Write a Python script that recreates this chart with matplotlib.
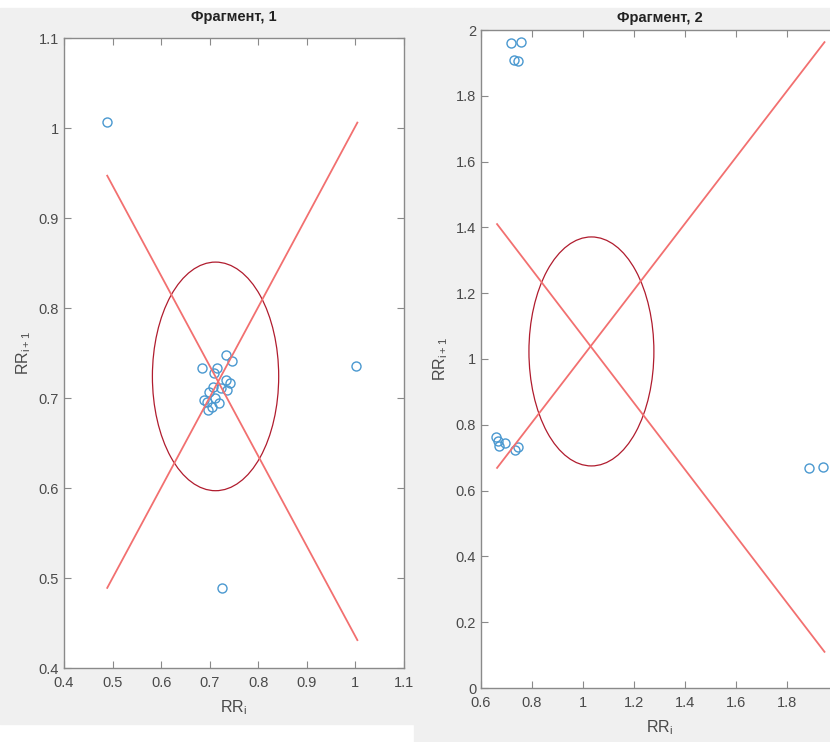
import matplotlib.pyplot as plt
from matplotlib.patches import Ellipse, Rectangle

plt.rcParams['font.family'] = ['Liberation Sans', 'DejaVu Sans']

# Фрагмент 1 - точки RR_i, RR_i+1
rr1_x = [0.4885, 1.001, 0.725, 0.733, 0.746, 0.685, 0.715, 0.709, 0.733, 0.742,
         0.707, 0.723, 0.735, 0.699, 0.688, 0.711, 0.694, 0.719, 0.704, 0.697]
rr1_y = [1.007, 0.7356, 0.489, 0.748, 0.741, 0.733, 0.733, 0.728, 0.720, 0.717,
         0.712, 0.711, 0.709, 0.707, 0.698, 0.700, 0.696, 0.695, 0.690, 0.687]
# линии и эллипс
line1_x = [0.489, 1.004]
line1_up = [0.489, 1.006]
line1_down = [0.947, 0.431]
ell1 = [0.712, 0.724, 0.26, 0.254]   # cx, cy, ширина, высота

# Фрагмент 2
rr2_x = [0.718, 0.757, 0.729, 0.745, 0.658, 0.667, 0.671, 0.694, 0.733, 0.745,
         1.886, 1.941]
rr2_y = [1.960, 1.963, 1.909, 1.906, 0.762, 0.751, 0.736, 0.746, 0.723, 0.733,
         0.669, 0.673]
line2_x = [0.663, 1.947]
line2_up = [0.669, 1.963]
line2_down = [1.410, 0.110]
ell2 = [1.033, 1.023, 0.49, 0.696]

W, H = 830, 742
fig = plt.figure(figsize=(W / 100, H / 100), dpi=100)
fig.patch.set_facecolor('white')

bg = '#f0f0f0'
fig.add_artist(Rectangle((0, 1 - 724 / H), 414 / W, (724 - 8) / H,
                         transform=fig.transFigure, color=bg, zorder=-10))
fig.add_artist(Rectangle((414 / W, 0), 1 - 414 / W, 1 - 8 / H,
                         transform=fig.transFigure, color=bg, zorder=-10))

blue = '#4a98d0'
red = '#f27070'
dark_red = '#b01c2e'
spine_c = '#8a8a8a'
txt_c = '#4a4a4a'


def style(ax):
    for s in ax.spines.values():
        s.set_color(spine_c)
        s.set_linewidth(1.0)
    ax.tick_params(direction='in', length=5, width=0.8, color=spine_c,
                   labelcolor=txt_c, labelsize=10.5, top=True, right=True)
    ax.set_facecolor('white')


# левый график
ax1 = fig.add_axes([64 / W, 1 - 668 / H, (404 - 64) / W, (668 - 38) / H])
ax1.plot(rr1_x, rr1_y, 'o', mfc='none', mec=blue, ms=6.5, mew=1.0)
ax1.plot(line1_x, line1_up, color=red, lw=1.3)
ax1.plot(line1_x, line1_down, color=red, lw=1.3)
ax1.add_patch(Ellipse((ell1[0], ell1[1]), ell1[2], ell1[3], fill=False,
                      ec=dark_red, lw=0.9))
ax1.set_xlim(0.4, 1.1)
ax1.set_ylim(0.4, 1.1)
ax1.set_xticks([0.4, 0.5, 0.6, 0.7, 0.8, 0.9, 1, 1.1])
ax1.set_xticklabels(['0.4', '0.5', '0.6', '0.7', '0.8', '0.9', '1', '1.1'])
ax1.set_yticks([0.4, 0.5, 0.6, 0.7, 0.8, 0.9, 1, 1.1])
ax1.set_yticklabels(['0.4', '0.5', '0.6', '0.7', '0.8', '0.9', '1', '1.1'])
style(ax1)
ax1.tick_params(axis='x', pad=6)
ax1.set_title('Фрагмент, 1', fontsize=10.5, fontweight='bold', color='#222222', pad=12)
ax1.set_xlabel(r'RR$_\mathregular{i}$', fontsize=11.5, color=txt_c, labelpad=6)
ax1.set_ylabel(r'RR$_\mathregular{i+1}$', fontsize=11.5, color=txt_c, labelpad=4)

# правый график (обрезан справа)
ax2 = fig.add_axes([481 / W, 1 - 688 / H, (838 - 481) / W, (688 - 30) / H])
ax2.plot(rr2_x, rr2_y, 'o', mfc='none', mec=blue, ms=6.5, mew=1.0)
ax2.plot(line2_x, line2_up, color=red, lw=1.3)
ax2.plot(line2_x, line2_down, color=red, lw=1.3)
ax2.add_patch(Ellipse((ell2[0], ell2[1]), ell2[2], ell2[3], fill=False,
                      ec=dark_red, lw=0.9))
ax2.set_xlim(0.6, 2.0)
ax2.set_ylim(0, 2)
ax2.set_xticks([0.6, 0.8, 1, 1.2, 1.4, 1.6, 1.8, 2])
ax2.set_xticklabels(['0.6', '0.8', '1', '1.2', '1.4', '1.6', '1.8', '2'])
ax2.set_yticks([0, 0.2, 0.4, 0.6, 0.8, 1, 1.2, 1.4, 1.6, 1.8, 2])
ax2.set_yticklabels(['0', '0.2', '0.4', '0.6', '0.8', '1', '1.2', '1.4', '1.6', '1.8', '2'])
style(ax2)
ax2.tick_params(axis='x', pad=6)
ax2.set_title('Фрагмент, 2', fontsize=10.5, fontweight='bold', color='#222222', pad=6)
ax2.set_xlabel(r'RR$_\mathregular{i}$', fontsize=11.5, color=txt_c, labelpad=6)
ax2.set_ylabel(r'RR$_\mathregular{i+1}$', fontsize=11.5, color=txt_c, labelpad=4)

fig.savefig('out.png', dpi=100)
